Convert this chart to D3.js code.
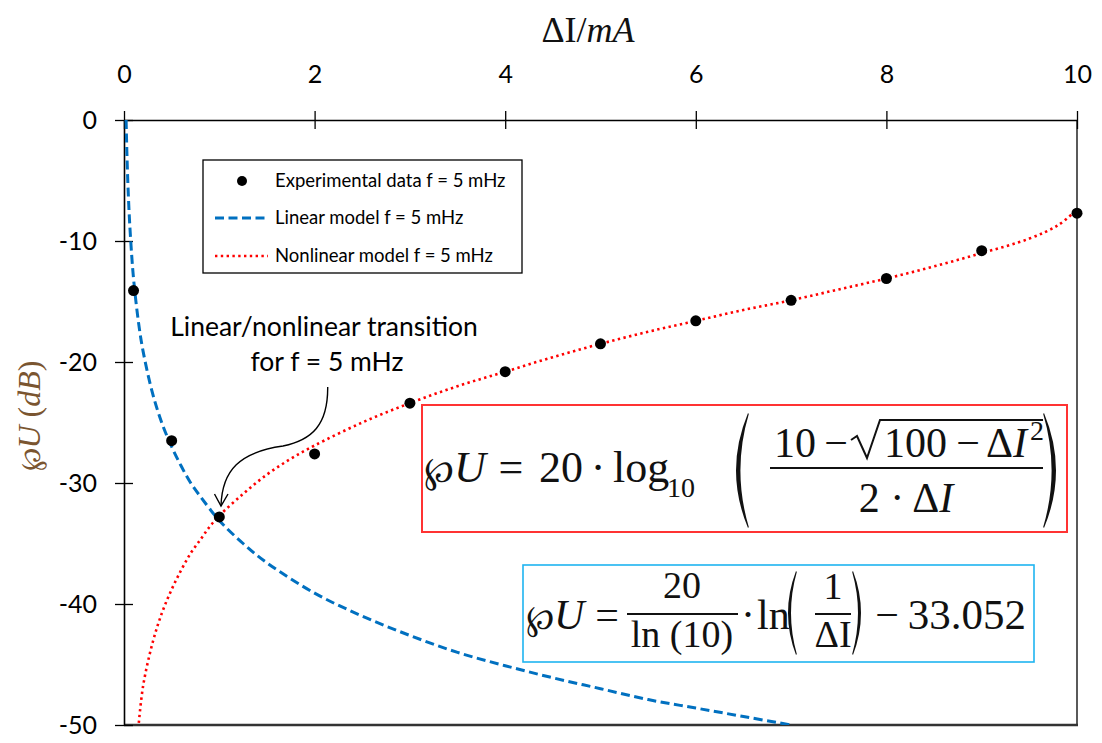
<!DOCTYPE html>
<html>
<head>
<meta charset="utf-8">
<script src="https://cdn.jsdelivr.net/npm/d3@7"></script>
<style>
  html, body { margin: 0; padding: 0; background: #fff; }
  svg { display: block; }
</style>
</head>
<body>
<svg id="chart" width="1102" height="743"></svg>
<script>
// Experimental attenuation measurements at f = 5 mHz
const expX = [0.1, 0.5, 1, 2, 3, 4, 5, 6, 7, 8, 9, 10];
const expY = [-14.1, -26.5, -32.8, -27.6, -23.4, -20.8, -18.5, -16.6, -14.9, -13.1, -10.8, -7.7];

// Linear model curve
const linX = [0.022, 0.03, 0.04, 0.05, 0.06, 0.08, 0.1, 0.15, 0.2, 0.3, 0.4, 0.5, 0.6, 0.7, 0.8, 1.0,
              1.25, 1.5, 2, 2.5, 3, 3.5, 4, 4.5, 5, 5.5, 6, 6.5, 7];
const linY = [0, -2.6, -5.1, -7.0, -8.6, -11.1, -13.1, -16.6, -19.1, -22.6, -25.1, -27.0, -28.6, -30.0, -31.1, -33.1,
              -35.0, -36.6, -39.1, -41.0, -42.6, -44.0, -45.1, -46.1, -47.0, -47.9, -48.6, -49.3, -50.0];

// Nonlinear model curve
const nonX = [0.15, 0.2, 0.3, 0.4, 0.5, 0.6, 0.7, 0.8, 0.9, 1.0, 1.25, 1.5, 1.75, 2, 2.5, 3, 3.5, 4, 4.5,
              5, 5.5, 6, 6.5, 7, 7.5, 8, 8.5, 9, 9.5, 9.8, 10];
const nonY = [-50.3, -46.8, -43.2, -40.7, -38.8, -37.2, -35.8, -34.7, -33.6, -32.7, -30.9, -29.3, -28.0, -26.9, -25.0,
              -23.4, -22.0, -20.8, -19.6, -18.5, -17.5, -16.6, -15.7, -14.9, -14.0, -13.1, -12.1, -11.0, -9.8, -8.7, -7.4];

const xTicks = [0, 2, 4, 6, 8, 10];
const yTicks = [0, -10, -20, -30, -40, -50];

const legendLabels = ["Experimental data f = 5 mHz", "Linear model f = 5 mHz", "Nonlinear model f = 5 mHz"];

const svg = d3.select("#chart");
const pLeft = 124, pRight = 1077, pTop = 120, pBottom = 725;

const x = d3.scaleLinear().domain([0, 10]).range([pLeft, pRight]);
const y = d3.scaleLinear().domain([0, -50]).range([pTop, pBottom]);

const sans = "Lato, 'Open Sans', sans-serif";
const serif = "'Liberation Serif', 'DejaVu Serif', serif";
const plain = d => String(d);   // hyphen-minus tick labels

// clip region of plot
svg.append("defs").append("clipPath").attr("id", "plotClip")
  .append("rect").attr("x", pLeft).attr("y", pTop).attr("width", pRight - pLeft + 4).attr("height", pBottom - pTop);

// frame: right border, bottom edge
svg.append("line").attr("x1", pRight).attr("x2", pRight).attr("y1", pTop).attr("y2", pBottom)
  .attr("stroke", "#000").attr("stroke-width", 1.3);
svg.append("line").attr("x1", pLeft).attr("x2", pRight + 1).attr("y1", pBottom).attr("y2", pBottom)
  .attr("stroke", "#333").attr("stroke-width", 2.5);

// top axis
const gx = svg.append("g").attr("transform", `translate(0,${pTop})`)
  .call(d3.axisTop(x).tickValues(xTicks).tickFormat(plain).tickSizeInner(9).tickSizeOuter(0));
gx.select(".domain").attr("stroke", "#000").attr("stroke-width", 1.6);
gx.selectAll(".tick line").attr("y1", -9).attr("y2", 9).attr("stroke", "#000").attr("stroke-width", 1.3);
gx.selectAll(".tick text").attr("y", -37).attr("dy", 0)
  .attr("font-family", sans).attr("font-size", 25).attr("fill", "#000");

// left axis
const gy = svg.append("g").attr("transform", `translate(${pLeft},0)`)
  .call(d3.axisLeft(y).tickValues(yTicks).tickFormat(plain).tickSizeInner(9).tickSizeOuter(0));
gy.select(".domain").attr("stroke", "#000").attr("stroke-width", 1.6);
gy.selectAll(".tick line").attr("x1", -9).attr("x2", 9).attr("stroke", "#000").attr("stroke-width", 1.3);
gy.selectAll(".tick text").attr("x", -27).attr("dy", "0.35em")
  .attr("font-family", sans).attr("font-size", 25).attr("fill", "#000");

// axis titles
const xt = svg.append("text").attr("x", 588).attr("y", 42).attr("text-anchor", "middle")
  .attr("font-family", serif).attr("font-size", 36).attr("fill", "#111");
xt.append("tspan").text("ΔI/");
xt.append("tspan").attr("font-style", "italic").text("mA");

const yt = svg.append("text").attr("transform", "translate(40,416) rotate(-90)").attr("text-anchor", "middle")
  .attr("font-family", serif).attr("font-size", 32).attr("fill", "#7a5530");
yt.append("tspan").attr("font-size", 28).text("℘");
yt.append("tspan").attr("font-style", "italic").text("U ");
yt.append("tspan").text("(");
yt.append("tspan").attr("font-style", "italic").text("dB");
yt.append("tspan").text(")");

// model curves
const plot = svg.append("g").attr("clip-path", "url(#plotClip)");
const line = d3.line().x(d => x(d[0])).y(d => y(d[1])).curve(d3.curveCatmullRom.alpha(0.5));

plot.append("path").datum(d3.zip(linX, linY)).attr("d", line)
  .attr("fill", "none").attr("stroke", "#0070c0").attr("stroke-width", 3)
  .attr("stroke-dasharray", "9,4.5");

plot.append("path").datum(d3.zip(nonX, nonY)).attr("d", line)
  .attr("fill", "none").attr("stroke", "#ff0000").attr("stroke-width", 2.6)
  .attr("stroke-dasharray", "2.4,3.4");

// experimental points
svg.append("g").selectAll("circle").data(d3.zip(expX, expY)).join("circle")
  .attr("cx", d => x(d[0])).attr("cy", d => y(d[1])).attr("r", 5.5).attr("fill", "#000");

// legend
const lg = svg.append("g");
lg.append("rect").attr("x", 203).attr("y", 160).attr("width", 319).attr("height", 113)
  .attr("fill", "#fff").attr("stroke", "#000").attr("stroke-width", 1.3);
const rowY = [181, 218, 256];
lg.append("circle").attr("cx", 242).attr("cy", rowY[0]).attr("r", 5).attr("fill", "#000");
lg.append("line").attr("x1", 215).attr("x2", 268).attr("y1", rowY[1]).attr("y2", rowY[1])
  .attr("stroke", "#0070c0").attr("stroke-width", 3).attr("stroke-dasharray", "9,4.5");
lg.append("line").attr("x1", 215).attr("x2", 268).attr("y1", rowY[2]).attr("y2", rowY[2])
  .attr("stroke", "#ff0000").attr("stroke-width", 2.4).attr("stroke-dasharray", "2.4,3.4");
lg.selectAll("text.lbl").data(legendLabels).join("text").attr("class", "lbl")
  .attr("x", 275).attr("y", (d, i) => rowY[i]).attr("dy", "0.35em")
  .attr("font-family", sans).attr("font-size", 18.5).attr("fill", "#000").text(d => d);

// transition annotation
const an = svg.append("text").attr("text-anchor", "middle").attr("font-family", sans)
  .attr("font-size", 26.5).attr("fill", "#000");
an.append("tspan").attr("x", 324).attr("y", 336).text("Linear/nonlinear transition");
an.append("tspan").attr("x", 327).attr("y", 371).text("for f = 5 mHz");
svg.append("path").attr("d", "M327.7,387 C328,425 312,440 283,446 C240,452 222,470 221,506")
  .attr("fill", "none").attr("stroke", "#000").attr("stroke-width", 1.4);
svg.append("path").attr("d", "M214.5,494 L221,506 L228,494")
  .attr("fill", "none").attr("stroke", "#000").attr("stroke-width", 1.4);

// big bracket shape
function paren(x0, t, b, w, th, flip) {
  const m = (t + b) / 2;
  if (!flip) {
    return `M${x0 + w},${t} Q${x0 - w},${m} ${x0 + w},${b} L${x0 + w + 0.8},${b - 1} Q${x0 - w + 2 * th},${m} ${x0 + w + 0.8},${t + 1} Z`;
  }
  return `M${x0},${t} Q${x0 + 2 * w},${m} ${x0},${b} L${x0 - 0.8},${b - 1} Q${x0 + 2 * w - 2 * th},${m} ${x0 - 0.8},${t + 1} Z`;
}

// nonlinear model equation
const red = svg.append("g");
red.append("rect").attr("x", 422).attr("y", 405).attr("width", 645).attr("height", 127)
  .attr("fill", "#fff").attr("stroke", "#ff3333").attr("stroke-width", 2);
const rf = (xx, yy, txt, size, anchor, italic) => red.append("text").attr("x", xx).attr("y", yy)
  .attr("font-family", serif).attr("font-size", size).attr("text-anchor", anchor || "start")
  .attr("font-style", italic ? "italic" : "normal").attr("fill", "#111").text(txt);
const rp = rf(424, 482, "", 44, "start", true);
rp.append("tspan").attr("font-size", 36).attr("font-style", "normal").text("℘");
rp.append("tspan").text("U");
rf(511, 482, "=", 44, "middle");
rf(561, 482, "20", 44, "middle");
rf(598, 482, "·", 44, "middle");
rf(613, 482, "log", 44, "start");
rf(667, 497, "10", 28, "start");
red.append("path").attr("d", paren(736, 413, 528, 12, 4, false)).attr("fill", "#111");
rf(774, 457, "10", 42, "start");
rf(836, 457, "−", 42, "middle");
red.append("path").attr("d", "M851,440 L857,436 L867,458 L880,420 L1043,420")
  .attr("fill", "none").attr("stroke", "#111").attr("stroke-width", 2);
rf(884, 457, "100", 42, "start");
rf(968, 457, "−", 42, "middle");
const di = rf(986, 457, "Δ", 42, "start");
di.append("tspan").attr("font-style", "italic").text("I");
rf(1030, 440, "2", 28, "start");
red.append("line").attr("x1", 770).attr("x2", 1043).attr("y1", 468).attr("y2", 468)
  .attr("stroke", "#111").attr("stroke-width", 2);
const den = rf(906, 512, "2 · Δ", 42, "middle");
den.append("tspan").attr("font-style", "italic").text("I");
red.append("path").attr("d", paren(1044, 413, 528, 12, 4, true)).attr("fill", "#111");

// linear model equation
const blue = svg.append("g");
blue.append("rect").attr("x", 523).attr("y", 565).attr("width", 511).attr("height", 97)
  .attr("fill", "#fff").attr("stroke", "#1fb4f0").attr("stroke-width", 1.6);
const bf = (xx, yy, txt, size, anchor, italic) => blue.append("text").attr("x", xx).attr("y", yy)
  .attr("font-family", serif).attr("font-size", size).attr("text-anchor", anchor || "start")
  .attr("font-style", italic ? "italic" : "normal").attr("fill", "#111").text(txt);
const bp = bf(526, 629, "", 42, "start", true);
bp.append("tspan").attr("font-size", 34).attr("font-style", "normal").text("℘");
bp.append("tspan").text("U");
bf(607, 629, "=", 42, "middle");
bf(682, 598, "20", 38, "middle");
blue.append("line").attr("x1", 627).attr("x2", 738).attr("y1", 614).attr("y2", 614)
  .attr("stroke", "#111").attr("stroke-width", 1.8);
bf(682, 647, "ln (10)", 38, "middle");
bf(748, 629, "·", 42, "middle");
bf(757, 629, "ln", 42, "start");
blue.append("path").attr("d", paren(788, 571, 655, 8, 2.6, false)).attr("fill", "#111");
bf(833, 599, "1", 38, "middle");
blue.append("line").attr("x1", 815).attr("x2", 851).attr("y1", 614).attr("y2", 614)
  .attr("stroke", "#111").attr("stroke-width", 1.8);
bf(833, 647, "ΔI", 38, "middle");
blue.append("path").attr("d", paren(853, 571, 655, 8, 2.6, true)).attr("fill", "#111");
bf(887, 629, "−", 42, "middle");
bf(1026, 629, "33.052", 43, "end");
</script>
</body>
</html>
